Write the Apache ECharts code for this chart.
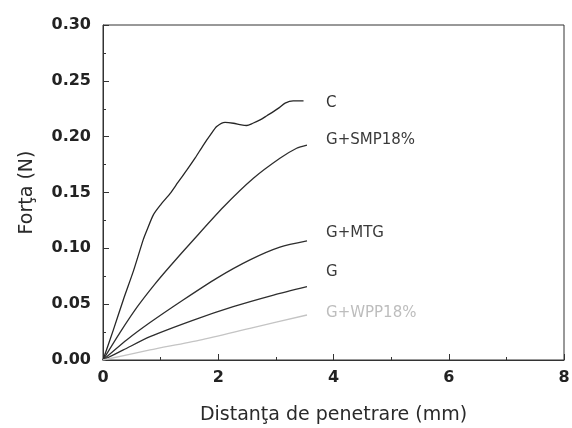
<!DOCTYPE html>
<html>
<head>
<meta charset="utf-8">
<script src="https://cdn.jsdelivr.net/npm/echarts@6/dist/echarts.min.js"></script>
<style>
html,body{margin:0;padding:0;background:#fff;}
#chart{width:572px;height:428px;}
</style>
</head>
<body>
<div id="chart"></div>
<script>
// Data
var seriesNames = ['C', 'G+SMP18%', 'G+MTG', 'G', 'G+WPP18%'];
var dataC = [[0,0],[0.18,0.027],[0.353,0.054],[0.53,0.080],[0.70,0.108],[0.76,0.116],[0.874,0.130],[1.0,0.139],[1.163,0.149],[1.30,0.159],[1.453,0.170],[1.60,0.181],[1.742,0.1925],[1.87,0.202],[1.973,0.209],[2.118,0.2128],[2.263,0.212],[2.40,0.2105],[2.494,0.210],[2.60,0.212],[2.726,0.215],[2.85,0.219],[2.957,0.2224],[3.06,0.226],[3.16,0.230],[3.30,0.232],[3.48,0.232]];
var dataSMP = [[0,0],[0.3,0.025],[0.6,0.048],[0.9,0.068],[1.163,0.084],[1.568,0.1075],[2.09,0.137],[2.61,0.1627],[3.07,0.1806],[3.36,0.1896],[3.54,0.1925]];
var dataMTG = [[0,0],[0.41,0.0179],[0.816,0.0335],[1.39,0.0537],[1.97,0.0731],[2.55,0.0896],[3.07,0.1010],[3.54,0.1066]];
var dataG = [[0,0],[0.353,0.009],[0.816,0.0209],[1.57,0.0358],[2.26,0.0478],[2.96,0.0582],[3.54,0.0657]];
var dataWPP = [[0,0],[0.816,0.009],[1.68,0.0179],[2.55,0.0284],[3.54,0.0403]];
var labelX = 3.87;
var labelY = [0.230, 0.197, 0.1137, 0.0788, 0.0421];
var xTicks = [0, 2, 4, 6, 8];
var yTicks = [0, 0.05, 0.10, 0.15, 0.20, 0.25, 0.30];
var xName = 'Distanţa de penetrare (mm)';
var yName = 'Forţa (N)';

var colors = ['#262626', '#2e2e2e', '#2e2e2e', '#2e2e2e', '#c4c4c4'];
var labelColors = ['#333', '#3a3a3a', '#3a3a3a', '#3a3a3a', '#bdbdbd'];
var allData = [dataC, dataSMP, dataMTG, dataG, dataWPP];

var chart = echarts.init(document.getElementById('chart'), null, {renderer: 'canvas'});
var series = seriesNames.map(function (n, i) {
  return {
    name: n,
    type: 'line',
    data: allData[i],
    smooth: 0.25,
    showSymbol: false,
    symbol: 'none',
    lineStyle: {color: colors[i], width: 1.3},
    markPoint: {
      symbol: 'circle',
      symbolSize: 0,
      silent: true,
      data: [{coord: [labelX, labelY[i]], value: n}],
      label: {
        show: true,
        position: 'right',
        distance: 0,
        formatter: n,
        fontFamily: 'DejaVu Sans',
        fontSize: 15,
        color: labelColors[i]
      }
    }
  };
});

chart.setOption({
  animation: false,
  backgroundColor: '#fff',
  grid: {left: 103, right: 8, top: 25, bottom: 68, show: true, borderColor: '#333', borderWidth: 1, containLabel: false, outerBoundsMode: 'none'},
  xAxis: {
    type: 'value', min: xTicks[0], max: xTicks[xTicks.length - 1], interval: 2,
    name: xName, nameLocation: 'middle', nameGap: 46,
    nameTextStyle: {fontFamily: 'DejaVu Sans', fontSize: 19, color: '#2a2a2a'},
    axisLine: {show: true, lineStyle: {color: '#333', width: 1}},
    axisTick: {show: true, inside: true, length: 6, lineStyle: {color: '#333'}},
    minorTick: {show: true, splitNumber: 2, length: 3, lineStyle: {color: '#333'}},
    splitLine: {show: false},
    axisLabel: {margin: 10, fontFamily: 'DejaVu Sans', fontWeight: 'bold', fontSize: 16, color: '#222',
      formatter: function (v) { return String(v); }}
  },
  yAxis: {
    type: 'value', min: yTicks[0], max: yTicks[yTicks.length - 1], interval: 0.05,
    name: yName, nameLocation: 'middle', nameGap: 66, nameRotate: 90,
    nameTextStyle: {fontFamily: 'DejaVu Sans', fontSize: 19, color: '#2a2a2a'},
    axisLine: {show: true, lineStyle: {color: '#333', width: 1}},
    axisTick: {show: true, inside: true, length: 6, lineStyle: {color: '#333'}},
    minorTick: {show: true, splitNumber: 2, length: 3, lineStyle: {color: '#333'}},
    splitLine: {show: false},
    axisLabel: {margin: 12, fontFamily: 'DejaVu Sans', fontWeight: 'bold', fontSize: 16, color: '#222',
      formatter: function (v) { return v.toFixed(2); }}
  },
  series: series
});
</script>
</body>
</html>
